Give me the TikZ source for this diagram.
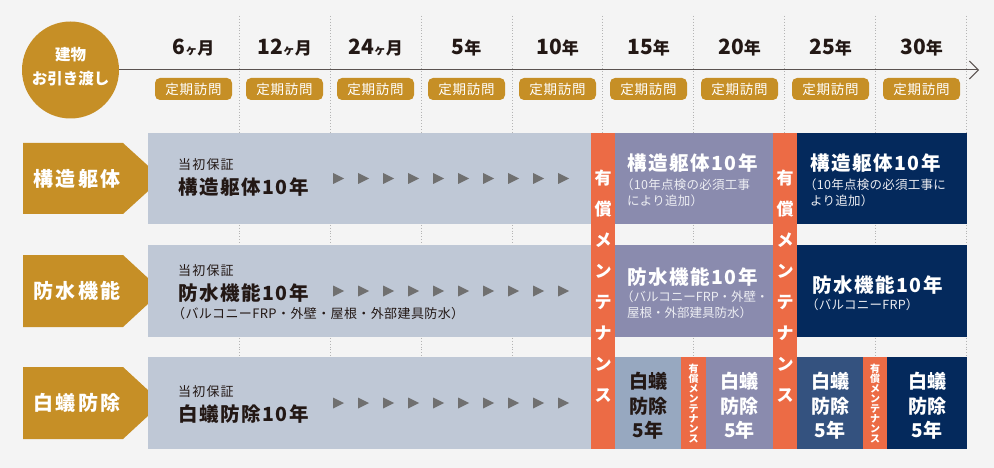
\documentclass[tikz,border=0pt]{standalone}
\usepackage{fontspec}
\setmainfont{Noto Sans CJK JP}
\usetikzlibrary{arrows.meta}
\definecolor{bg}{HTML}{F4F4F4}
\definecolor{gold}{HTML}{C68F26}
\definecolor{greybox}{HTML}{BFC8D6}
\definecolor{steelbox}{HTML}{97A8C0}
\definecolor{purplebox}{HTML}{8A8BAE}
\definecolor{midnavy}{HTML}{34527F}
\definecolor{navy}{HTML}{04295C}
\definecolor{orng}{HTML}{EC6B45}
\definecolor{tri}{HTML}{707070}
\definecolor{dark}{HTML}{231815}
\definecolor{dotc}{HTML}{B4B4B4}
\newcommand\TLnum[1]{{\fontsize{21}{24}\selectfont #1}}
\newcommand\TLu[1]{{\fontsize{17}{20}\selectfont #1}}
\newcommand\TLk[1]{{\fontsize{12}{14}\selectfont #1}}
\begin{document}
\begin{tikzpicture}[x=1pt,y=-1pt,
  pill/.style={fill=gold, rounded corners=5pt, minimum width=77pt, minimum height=22pt, inner sep=0pt, text=white, font=\fontsize{13.5}{15}\selectfont\addfontfeatures{LetterSpace=5}},
  tl/.style={inner sep=0pt, text=dark, font=\bfseries},
  lbl/.style={inner sep=0pt, text=white, font=\bfseries\fontsize{20}{24}\selectfont\addfontfeatures{LetterSpace=13}},
  smalltxt/.style={anchor=west, inner sep=0pt, text=dark, font=\fontsize{13}{14}\selectfont\addfontfeatures{LetterSpace=9}},
  maintxt/.style={anchor=west, inner sep=0pt, text=dark, font=\bfseries\fontsize{19.5}{22}\selectfont\addfontfeatures{LetterSpace=8}},
  subtxt/.style={anchor=west, inner sep=0pt, text=dark, font=\fontsize{13}{14}\selectfont\addfontfeatures{LetterSpace=3}},
  wmain/.style={maintxt, text=white},
  wsub/.style={anchor=west, inner sep=0pt, text=white!85!purplebox, font=\fontsize{12.5}{14}\selectfont\addfontfeatures{LetterSpace=2}},
  wsubt/.style={wsub, font=\fontsize{12.5}{14}\selectfont},
  cbox/.style={inner sep=0pt, align=center, text=white, font=\bfseries\fontsize{19}{24.5}\selectfont},
  vch/.style={inner sep=0pt, text=white, font=\bfseries\fontsize{17}{20}\selectfont},
  vsm/.style={inner sep=0pt, text=white, font=\bfseries\fontsize{10}{11}\selectfont},
  dotline/.style={dotc, dotted, line width=0.9pt},
  trimark/.style={fill=tri}
]
\useasboundingbox (0,0) rectangle (994,468);
\fill[bg] (0,0) rectangle (994,468);

% dotted column lines
\foreach \x in {239,330,421,512,602,693,784,875,966}
  \draw[dotline] (\x,16) -- (\x,449);

% timeline
\node[circle, fill=gold, minimum size=97pt, inner sep=0pt] (start) at (70.5,70) {};
\node[inner sep=0pt, text=white, font=\bfseries\fontsize{15.5}{24}\selectfont, align=center] (starttxt) at (70.5,67) {建物\\お引き渡し};
\coordinate (tlend) at (979,70);
\draw[color=dark!75, line width=1pt, -{Straight Barb[length=9pt,width=18pt,line width=1pt]}] (start.east) -- (tlend);

% timeline labels
\node[tl] (l1) at (193.5,48) {\TLnum{6}\TLk{ヶ}\TLu{月}};
\node[tl] (l2) at (284.5,48) {\TLnum{12}\TLk{ヶ}\TLu{月}};
\node[tl] (l3) at (375.5,48) {\TLnum{24}\TLk{ヶ}\TLu{月}};
\node[tl] (l4) at (466.5,48) {\TLnum{5}\TLu{年}};
\node[tl] (l5) at (557.5,48) {\TLnum{10}\TLu{年}};
\node[tl] (l6) at (648.5,48) {\TLnum{15}\TLu{年}};
\node[tl] (l7) at (739.5,48) {\TLnum{20}\TLu{年}};
\node[tl] (l8) at (830.5,48) {\TLnum{25}\TLu{年}};
\node[tl] (l9) at (921.5,48) {\TLnum{30}\TLu{年}};
\foreach \x [count=\i] in {193.5,284.5,375.5,466.5,557.5,648.5,739.5,830.5,921.5}
  \node[pill] (p\i) at (\x,89) {定期訪問};

% row labels (pentagons)
\foreach \yt/\yb [count=\i] in {143/214,255/327,367/439}
  \fill[gold] (23,\yt) -- (123,\yt) -- (162,{(\yt+\yb)/2}) -- (123,\yb) -- (23,\yb) -- cycle;
\node[lbl] (r1) at (77,178.5) {構造躯体};
\node[lbl] (r2) at (77,291) {防水機能};
\node[lbl] (r3) at (77,403) {白蟻防除};

% grey initial boxes
\fill[greybox] (148,133) rectangle (591,224);
\fill[greybox] (148,245) rectangle (591,337);
\fill[greybox] (148,357) rectangle (591,449);

% row 1 right
\fill[purplebox] (615,133) rectangle (773,224);
\fill[navy] (797,133) rectangle (967,224);
% row 2 right
\fill[purplebox] (615,245) rectangle (773,337);
\fill[navy] (797,245) rectangle (967,337);
% row 3 right
\fill[steelbox] (615,357) rectangle (681,449);
\fill[purplebox] (706,357) rectangle (773,449);
\fill[midnavy] (797,357) rectangle (863,449);
\fill[navy] (887,357) rectangle (967,449);

% orange maintenance strips
\fill[orng] (591,133) rectangle (615,449);
\fill[orng] (773,133) rectangle (797,449);
\fill[orng] (681,357) rectangle (706,449);
\fill[orng] (863,357) rectangle (887,449);

% triangles
\foreach \yc in {178.5,291,403}
  \foreach \k in {0,...,9}
    \fill[trimark] ({333+25*\k},{\yc-5.5}) -- ({344+25*\k},\yc) -- ({333+25*\k},{\yc+5.5}) -- cycle;

% grey box texts
\node[smalltxt] (g1a) at (178,165) {当初保証};
\node[maintxt] (g1b) at (178,187) {構造躯体10年};
\node[smalltxt] (g2a) at (178,271) {当初保証};
\node[maintxt] (g2b) at (178,293) {防水機能10年};
\node[subtxt] (g2c) at (172,314) {（バルコニーFRP・外壁・屋根・外部建具防水）};
\node[smalltxt] (g3a) at (178,392) {当初保証};
\node[maintxt] (g3b) at (178,414) {白蟻防除10年};

% row 1 right texts
\node[wmain] (a1) at (627,163) {構造躯体10年};
\node[wsub] (a2) at (621,185) {（10年点検の必須工事};
\node[wsub] (a3) at (627,201) {により追加）};
\node[wmain] (b1) at (810,163) {構造躯体10年};
\node[wsub] (b2) at (804,185) {（10年点検の必須工事に};
\node[wsub] (b3) at (810,201) {より追加）};

% row 2 right texts
\node[wmain] (c1) at (627,277) {防水機能10年};
\node[wsubt] (c2) at (621,297) {（バルコニーFRP・外壁・};
\node[wsubt] (c3) at (627,313) {屋根・外部建具防水）};
\node[wmain] (d1) at (812,285) {防水機能10年};
\node[wsub] (d2) at (806,305) {（バルコニーFRP）};

% row 3 right texts
\node[cbox, text=dark] (e1) at (648,406) {白蟻\\防除\\5年};
\node[cbox] (e2) at (739.5,406) {白蟻\\防除\\5年};
\node[cbox] (e3) at (830,406) {白蟻\\防除\\5年};
\node[cbox] (e4) at (927,406) {白蟻\\防除\\5年};

% vertical maintenance texts
\foreach \c [count=\i] in {有,償,メ,ン,テ,ナ,ン,ス} {
  \node[vch] (m1\i) at (603,{178+31.1*(\i-1)}) {\c};
  \node[vch] (m2\i) at (785,{178+31.1*(\i-1)}) {\c};
}
\foreach \c [count=\i] in {有,償,メ,ン,テ,ナ,ン,ス} {
  \node[vsm] (s1\i) at (693.5,{369+10*(\i-1)}) {\c};
  \node[vsm] (s2\i) at (875,{369+10*(\i-1)}) {\c};
}
\end{tikzpicture}
\end{document}
